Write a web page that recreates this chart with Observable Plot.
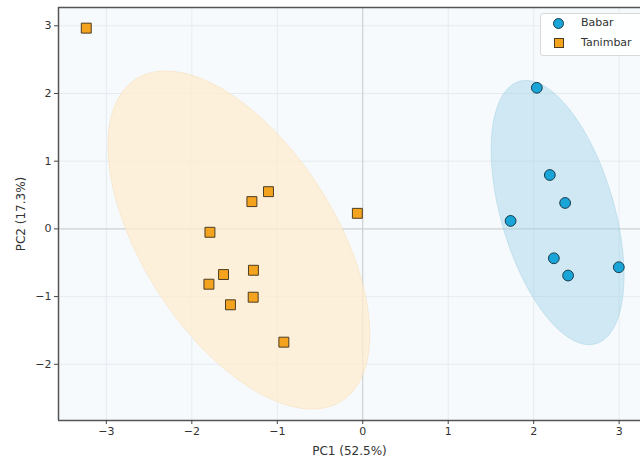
<!DOCTYPE html>
<html>
<head>
<meta charset="utf-8">
<script src="https://cdn.jsdelivr.net/npm/d3@7"></script>
<script src="https://cdn.jsdelivr.net/npm/@observablehq/plot@0.6"></script>
<style>
  body { margin: 0; background: #fff; font-family: "DejaVu Sans", sans-serif; }
  #wrap { position: relative; width: 640px; height: 462px; overflow: hidden; }
  #legend { position: absolute; left: 540px; top: 13px; width: 110px; height: 41px;
    background: rgba(255,255,255,0.9); border: 1px solid #d9d9d9; border-radius: 3px;
    font-size: 11px; color: #333; }
  .item { position: absolute; left: 40px; line-height: 14px; }
  .sym { position: absolute; box-sizing: border-box; }
</style>
</head>
<body>
<div id="wrap"></div>
<script>
const groups = ["Babar", "Tanimbar"];
const babarPC1 = [2.037, 2.189, 2.368, 1.730, 2.236, 2.403, 2.996];
const babarPC2 = [2.084, 0.796, 0.383, 0.118, -0.434, -0.689, -0.566];
const tanimbarPC1 = [-3.235, -1.103, -1.297, -0.063, -1.788, -1.629, -1.279, -1.800, -1.282, -1.548, -0.923];
const tanimbarPC2 = [2.965, 0.550, 0.403, 0.230, -0.050, -0.674, -0.611, -0.817, -1.009, -1.121, -1.673];
const xTicks = [-3, -2, -1, 0, 1, 2, 3];
const yTicks = [-2, -1, 0, 1, 2, 3];
const xDomain = [-3.56, 3.25];
const yDomain = [-2.83, 3.27];
const nStd = 2;

const babar = babarPC1.map((x, i) => ({x, y: babarPC2[i], g: "Babar"}));
const tanimbar = tanimbarPC1.map((x, i) => ({x, y: tanimbarPC2[i], g: "Tanimbar"}));
const fmt = d => d < 0 ? "\u2212" + (-d) : String(d);

function ellipse(pts) {
  const n = pts.length;
  const mx = d3.mean(pts, d => d.x), my = d3.mean(pts, d => d.y);
  let a = 0, b = 0, c = 0;
  for (const p of pts) { a += (p.x - mx) ** 2; b += (p.x - mx) * (p.y - my); c += (p.y - my) ** 2; }
  a /= n - 1; b /= n - 1; c /= n - 1;
  const l11 = Math.sqrt(a), l21 = b / l11, l22 = Math.sqrt(c - l21 * l21);
  return d3.range(0, 201).map(k => {
    const t = 2 * Math.PI * k / 200;
    const u = Math.cos(t), v = Math.sin(t);
    return {x: mx + nStd * l11 * u, y: my + nStd * (l21 * u + l22 * v)};
  });
}

const chart = Plot.plot({
  width: 640, height: 462,
  marginLeft: 58, marginRight: 0, marginTop: 7, marginBottom: 42,
  style: {fontFamily: "'DejaVu Sans', sans-serif", fontSize: "10px", color: "#333", background: "#fff"},
  x: {domain: xDomain, ticks: xTicks},
  y: {domain: yDomain, ticks: yTicks},
  marks: [
    Plot.rect([0], {x1: xDomain[0], x2: xDomain[1], y1: yDomain[0], y2: yDomain[1], fill: "#f6fafd"}),
    Plot.gridX(xTicks, {stroke: "#e1e8ee", strokeOpacity: 1, strokeWidth: 0.8}),
    Plot.gridY(yTicks, {stroke: "#e1e8ee", strokeOpacity: 1, strokeWidth: 0.8}),
    Plot.ruleX([0], {stroke: "#cccccc", strokeWidth: 1}),
    Plot.ruleY([0], {stroke: "#cccccc", strokeWidth: 1}),
    Plot.line(ellipse(tanimbar), {x: "x", y: "y", fill: "#ffeccf", fillOpacity: 0.75, stroke: "#f5d5a5", strokeOpacity: 0.4, strokeWidth: 1}),
    Plot.line(ellipse(babar), {x: "x", y: "y", fill: "#9fd2e6", fillOpacity: 0.45, stroke: "#8cc6dd", strokeOpacity: 0.35, strokeWidth: 1}),
    Plot.dot(tanimbar, {x: "x", y: "y", symbol: "square", r: 5.6, fill: "#f4a31f", stroke: "#4d3d22", strokeWidth: 1}),
    Plot.dot(babar, {x: "x", y: "y", symbol: "circle", r: 5.4, fill: "#1aa5d8", stroke: "#163c4c", strokeWidth: 1}),
    Plot.ruleX([xDomain[0]], {stroke: "#555", strokeWidth: 1.5}),
    Plot.ruleY([yDomain[0], yDomain[1]], {stroke: "#555", strokeWidth: 1.5}),
    Plot.axisX(xTicks, {tickSize: 4, tickPadding: 3, stroke: "#444", tickFormat: fmt, label: "PC1 (52.5%)", labelAnchor: "center", labelArrow: "none", labelOffset: 34, fontSize: 11, fill: "#333"}),
    Plot.axisY(yTicks, {tickSize: 4, tickPadding: 3, stroke: "#444", tickFormat: fmt, label: "PC2 (17.3%)", labelAnchor: "center", labelArrow: "none", labelOffset: 42, fontSize: 11, fill: "#333"})
  ]
});
d3.select(chart).selectAll("g[aria-label='x-axis label'] text, g[aria-label='y-axis label'] text").style("font-size", "12px");
const wrap = document.getElementById("wrap");
wrap.appendChild(chart);

const legend = document.createElement("div");
legend.id = "legend";
legend.innerHTML = `
  <div class="sym" style="left:12px;top:4px;width:11px;height:11px;border-radius:50%;background:#1aa5d8;border:1px solid #163c4c"></div>
  <div class="item" style="top:2px">${groups[0]}</div>
  <div class="sym" style="left:13px;top:24px;width:10px;height:10px;background:#f4a31f;border:1px solid #4d3d22"></div>
  <div class="item" style="top:22px">${groups[1]}</div>`;
wrap.appendChild(legend);
</script>
</body>
</html>
